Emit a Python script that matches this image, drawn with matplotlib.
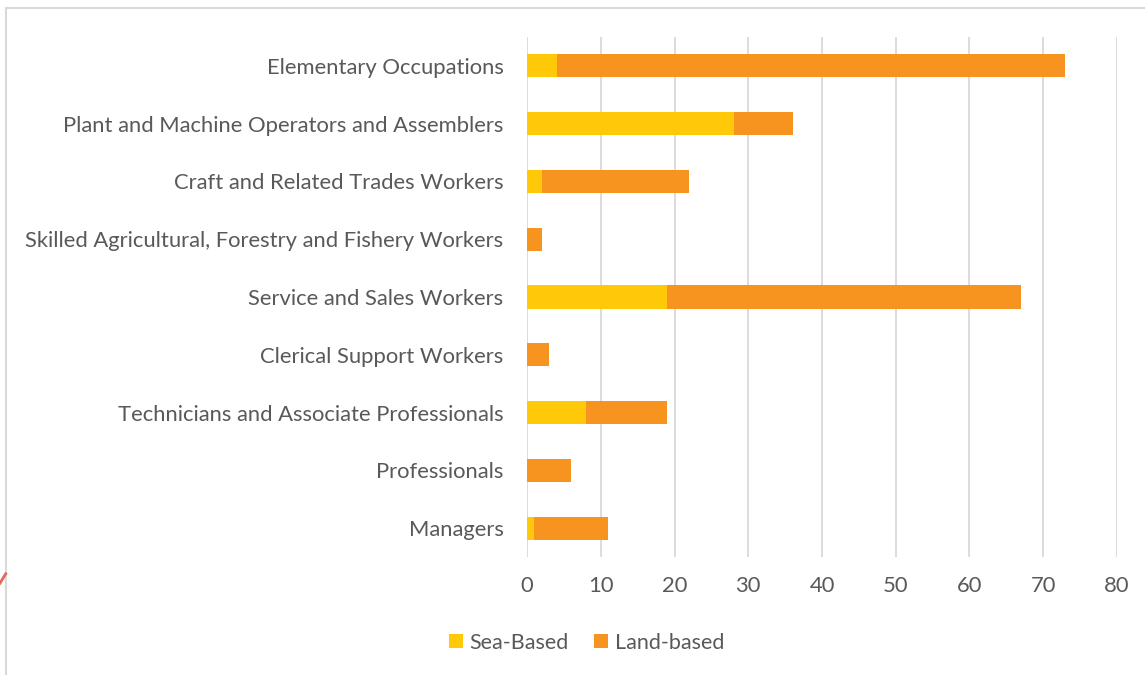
import matplotlib.pyplot as plt
from matplotlib.lines import Line2D

plt.rcParams['font.family'] = ['Lato', 'DejaVu Sans']

occupations = ['Managers', 'Professionals', 'Technicians and Associate Professionals',
               'Clerical Support Workers', 'Service and Sales Workers',
               'Skilled Agricultural, Forestry and Fishery Workers',
               'Craft and Related Trades Workers',
               'Plant and Machine Operators and Assemblers', 'Elementary Occupations']
sea_based = [1, 0, 8, 0, 19, 0, 2, 28, 4]
land_based = [10, 6, 11, 3, 48, 2, 20, 8, 69]

sea_color = '#FFC90A'
land_color = '#F7941F'
text_color = '#595959'

fig = plt.figure(figsize=(11.45, 6.75), dpi=100)
ax = fig.add_axes([0.4603, 0.1748, 0.5152, 0.7704])

ax.barh(occupations, sea_based, height=0.4, color=sea_color, label='Sea-Based', zorder=3)
ax.barh(occupations, land_based, left=sea_based, height=0.4, color=land_color,
        label='Land-based', zorder=3)

ax.set_xlim(0, 80)
ax.set_ylim(-0.5, len(occupations) - 0.5)
ax.set_xticks(range(0, 81, 10))
ax.grid(axis='x', color='#D9D9D9', linewidth=1.3, zorder=0)
ax.grid(axis='y', visible=False)
for s in ax.spines.values():
    s.set_visible(False)
ax.tick_params(axis='both', length=0, colors=text_color, labelsize=15.8)
ax.tick_params(axis='y', pad=17)
ax.tick_params(axis='x', pad=14)

fig.legend(loc='center', bbox_to_anchor=(0.512, 0.048), ncol=2, frameon=False,
           fontsize=15.5, labelcolor=text_color, handlelength=0.65, handleheight=0.65,
           handletextpad=0.3, columnspacing=1.2)

# chart frame edges and stray mark visible in the screenshot
fig.add_artist(Line2D([0.0055, 1.0], [0.988, 0.988], color='#D9D9D9', linewidth=1.5))
fig.add_artist(Line2D([0.0055, 0.0055], [0.0, 0.988], color='#D9D9D9', linewidth=1.5))
fig.add_artist(Line2D([0.0, 0.005], [0.136, 0.15], color='#E8655A', linewidth=2))

fig.savefig('out.png', dpi=100)
